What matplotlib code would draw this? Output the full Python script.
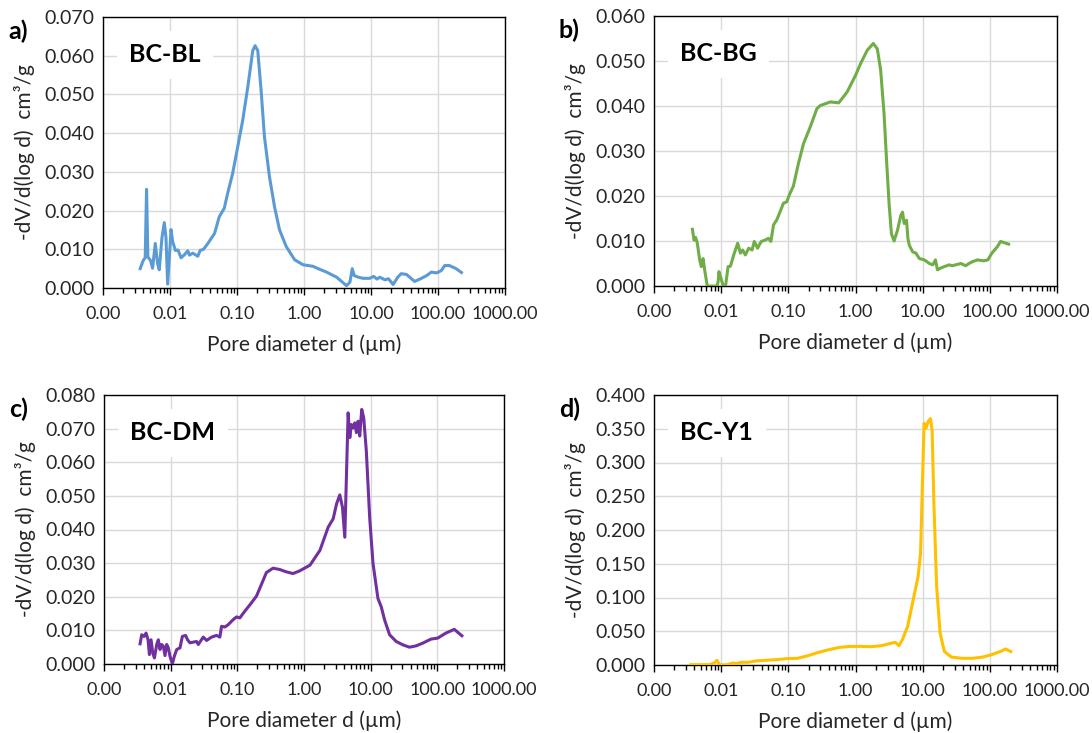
import numpy as np
import matplotlib
matplotlib.use("Agg")
import matplotlib.pyplot as plt
from matplotlib.ticker import FixedLocator, FuncFormatter, LogLocator, NullFormatter

plt.rcParams['font.family'] = ['Lato', 'DejaVu Sans']

# log10 of pore diameter (um) and -dV/d(log d) (cm3/g)
logd_bl = [-2.445, -2.40, -2.37, -2.35, -2.33, -2.29, -2.26, -2.22, -2.185, -2.16,
           -2.12, -2.085, -2.06, -2.035, -1.995, -1.985, -1.96, -1.92, -1.88, -1.835,
           -1.79, -1.735, -1.71, -1.66, -1.585, -1.55, -1.50, -1.435, -1.335, -1.265,
           -1.19, -1.14, -1.065, -0.99, -0.915, -0.84, -0.765, -0.73, -0.69, -0.64,
           -0.59, -0.515, -0.44, -0.365, -0.265, -0.14, -0.015, 0.135, 0.21, 0.337,
           0.486, 0.635, 0.685, 0.72, 0.75, 0.81, 0.88, 0.98, 1.04, 1.09,
           1.13, 1.21, 1.26, 1.33, 1.40, 1.45, 1.53, 1.65, 1.73, 1.83,
           1.90, 1.98, 2.05, 2.10, 2.17, 2.27, 2.35]
dv_bl = [0.0050, 0.0071, 0.0078, 0.0255, 0.0080, 0.0071, 0.0051, 0.0115, 0.0063, 0.0047,
         0.0130, 0.0169, 0.0130, 0.0010, 0.0120, 0.0151, 0.0120, 0.0097, 0.0098, 0.0078,
         0.0085, 0.0096, 0.0085, 0.0090, 0.0082, 0.0097, 0.0100, 0.0115, 0.0141, 0.0184,
         0.0206, 0.0244, 0.0296, 0.0364, 0.0433, 0.0518, 0.0613, 0.0626, 0.0613, 0.0510,
         0.0390, 0.0287, 0.0210, 0.0150, 0.0107, 0.0073, 0.0060, 0.0056, 0.0050, 0.0041,
         0.0028, 0.0006, 0.0015, 0.0050, 0.0032, 0.0028, 0.0025, 0.0025, 0.0030, 0.0023,
         0.0028, 0.0021, 0.0024, 0.0009, 0.0028, 0.0037, 0.0035, 0.0017, 0.0023, 0.0032,
         0.0041, 0.0039, 0.0045, 0.0058, 0.0058, 0.0050, 0.0040]

logd_bg = [-2.428, -2.404, -2.38, -2.355, -2.32, -2.296, -2.27, -2.246, -2.207, -2.06,
           -2.045, -2.034, -2.01, -1.97, -1.935, -1.897, -1.862, -1.813, -1.754, -1.714,
           -1.68, -1.64, -1.59, -1.54, -1.507, -1.458, -1.404, -1.345, -1.296, -1.26,
           -1.22, -1.172, -1.123, -1.073, -1.025, -0.975, -0.925, -0.85, -0.775, -0.675,
           -0.575, -0.525, -0.375, -0.25, -0.125, 0.0, 0.075, 0.175, 0.265, 0.325,
           0.375, 0.425, 0.465, 0.50, 0.535, 0.575, 0.625, 0.675, 0.70, 0.725,
           0.76, 0.78, 0.80, 0.85, 0.90, 0.95, 1.025, 1.10, 1.15, 1.19,
           1.22, 1.27, 1.32, 1.395, 1.44, 1.49, 1.57, 1.64, 1.69, 1.74,
           1.815, 1.91, 1.97, 2.03, 2.11, 2.16, 2.22, 2.28]
dv_bg = [0.0126, 0.0102, 0.0108, 0.0095, 0.0058, 0.0043, 0.0061, 0.0036, 0.0, 0.0,
         0.0010, 0.0032, 0.0021, 0.0, 0.0, 0.0043, 0.0044, 0.0069, 0.0095, 0.0073,
         0.0080, 0.0069, 0.0084, 0.0080, 0.0099, 0.0084, 0.0099, 0.0102, 0.0106, 0.0099,
         0.0136, 0.0147, 0.0165, 0.0184, 0.0187, 0.0206, 0.0222, 0.0272, 0.0316, 0.0353,
         0.0394, 0.0401, 0.0409, 0.0407, 0.0431, 0.0468, 0.0494, 0.0524, 0.0539, 0.0527,
         0.0479, 0.0383, 0.0272, 0.0183, 0.0116, 0.0100, 0.0124, 0.0157, 0.0164, 0.0139,
         0.0146, 0.0106, 0.0091, 0.0076, 0.0073, 0.0061, 0.0058, 0.0050, 0.0047, 0.0058,
         0.0036, 0.0040, 0.0043, 0.0047, 0.0045, 0.0047, 0.0050, 0.0045, 0.0050, 0.0054,
         0.0058, 0.0056, 0.0058, 0.0073, 0.0087, 0.0099, 0.0096, 0.0093]

logd_dm = [-2.459, -2.434, -2.399, -2.369, -2.339, -2.319, -2.294, -2.269, -2.244, -2.209,
           -2.185, -2.160, -2.135, -2.110, -2.085, -2.060, -2.035, -2.010, -1.975, -1.945,
           -1.910, -1.860, -1.825, -1.776, -1.746, -1.711, -1.611, -1.586, -1.511, -1.461,
           -1.387, -1.312, -1.262, -1.237, -1.187, -1.137, -1.062, -1.012, -0.963, -0.888,
           -0.788, -0.713, -0.638, -0.564, -0.464, -0.364, -0.264, -0.165, -0.065, 0.090,
           0.239, 0.363, 0.438, 0.488, 0.537, 0.577, 0.612, 0.662, 0.687, 0.711,
           0.736, 0.761, 0.786, 0.811, 0.836, 0.866, 0.896, 0.935, 0.985, 1.035,
           1.109, 1.159, 1.209, 1.284, 1.383, 1.483, 1.582, 1.682, 1.781, 1.905,
           2.005, 2.129, 2.254, 2.368]
dv_dm = [0.0060, 0.0087, 0.0082, 0.0092, 0.0072, 0.0028, 0.0072, 0.0033, 0.0018, 0.0058,
         0.0072, 0.0043, 0.0058, 0.0053, 0.0025, 0.0058, 0.0048, 0.0023, 0.0000, 0.0023,
         0.0043, 0.0048, 0.0082, 0.0085, 0.0072, 0.0063, 0.0067, 0.0058, 0.0080, 0.0070,
         0.0080, 0.0085, 0.0080, 0.0112, 0.0110, 0.0117, 0.0132, 0.0140, 0.0137, 0.0157,
         0.0182, 0.0202, 0.0237, 0.0272, 0.0285, 0.0281, 0.0274, 0.0269, 0.0277, 0.0294,
         0.0338, 0.0407, 0.0432, 0.0476, 0.0503, 0.0466, 0.0377, 0.0747, 0.0673, 0.0712,
         0.0702, 0.0717, 0.0688, 0.0722, 0.0678, 0.0757, 0.0732, 0.0633, 0.0436, 0.0299,
         0.0195, 0.0170, 0.0131, 0.0087, 0.0067, 0.0057, 0.0050, 0.0054, 0.0062, 0.0074,
         0.0077, 0.0092, 0.0103, 0.0084]

logd_y1 = [-2.453, -2.323, -2.167, -2.089, -2.0625, -2.036, -2.010, -1.906, -1.828, -1.776,
           -1.698, -1.594, -1.490, -1.333, -1.177, -1.021, -0.865, -0.708, -0.552, -0.396,
           -0.240, -0.083, 0.073, 0.229, 0.385, 0.542, 0.594, 0.646, 0.698, 0.776,
           0.828, 0.880, 0.932, 0.969, 0.995, 1.021, 1.052, 1.078, 1.115, 1.141,
           1.167, 1.208, 1.260, 1.323, 1.427, 1.583, 1.740, 1.896, 2.026, 2.156,
           2.234, 2.3125]
dv_y1 = [0.0005, 0.0005, 0.0005, 0.0040, 0.0070, 0.0020, 0.0000, 0.0005, 0.0030, 0.0020,
         0.0040, 0.0040, 0.0060, 0.0070, 0.0080, 0.0094, 0.0099, 0.0138, 0.0187, 0.0227,
         0.0261, 0.0276, 0.0276, 0.0271, 0.0286, 0.0325, 0.0335, 0.0286, 0.0375, 0.0572,
         0.0819, 0.1065, 0.1310, 0.1660, 0.2640, 0.3580, 0.3510, 0.3600, 0.3650, 0.3480,
         0.2400, 0.1160, 0.0470, 0.0200, 0.0118, 0.0099, 0.0099, 0.0118, 0.0153, 0.0200,
         0.0237, 0.0200]

panels = [
    ("a)", "BC-BL", logd_bl, dv_bl, "#5B9BD5", 0.070, 0.010, (103, 17, 505, 288)),
    ("b)", "BC-BG", logd_bg, dv_bg, "#70AD47", 0.060, 0.010, (654, 16, 1057, 286)),
    ("c)", "BC-DM", logd_dm, dv_dm, "#7030A0", 0.080, 0.010, (104, 395, 504, 664)),
    ("d)", "BC-Y1", logd_y1, dv_y1, "#FFC000", 0.400, 0.050, (654, 395, 1057, 665)),
]

W, H = 1092, 733
fig = plt.figure(figsize=(W / 100, H / 100), dpi=100)

for tag, name, logd, dv, col, ymax, ystep, (l, t, r, b) in panels:
    ax = fig.add_axes([l / W, 1 - b / H, (r - l) / W, (b - t) / H])
    d = 10 ** np.array(logd)
    ax.plot(d, dv, color=col, lw=2.2, zorder=3, solid_joinstyle='round')
    ax.set_xscale('log')
    ax.set_xlim(0.001, 1000)
    ax.set_ylim(0, ymax)
    ax.xaxis.set_major_locator(FixedLocator([10.0 ** k for k in range(-3, 4)]))
    ax.xaxis.set_minor_locator(LogLocator(base=10, subs=np.arange(2, 10), numticks=20))
    ax.xaxis.set_minor_formatter(NullFormatter())
    ax.xaxis.set_major_formatter(FuncFormatter(lambda v, p: f"{v:.2f}"))
    ax.set_yticks(np.arange(0, ymax + ystep / 2, ystep))
    ax.yaxis.set_major_formatter(FuncFormatter(lambda v, p: f"{v:.3f}"))
    ax.grid(True, which='major', color='#D9D9D9', lw=1.0, zorder=0)
    ax.set_axisbelow(True)
    ax.tick_params(axis='x', which='major', direction='out', length=5, width=1,
                   labelsize=13, pad=8, colors='black', labelcolor='#262626')
    ax.tick_params(axis='x', which='minor', direction='out', length=3.5, width=1)
    ax.tick_params(axis='y', length=0, labelsize=14, pad=6, labelcolor='#262626')
    for s in ax.spines.values():
        s.set_color('black')
        s.set_linewidth(1.0)
    ax.set_xlabel("Pore diameter d (µm)", fontsize=15, labelpad=9, color='#262626')
    ax.set_ylabel("-dV/d(log d)  cm³/g", fontsize=15, labelpad=7, color='#262626')
    ax.text(0.065, 0.86, name, transform=ax.transAxes, fontsize=18, fontweight='bold',
            va='center', ha='left', zorder=4, color='black',
            bbox=dict(boxstyle='square,pad=0.5', fc='white', ec='none'))
    fig.text((l - 95) / W, 1 - (t + 14) / H, tag, fontsize=18, fontweight='bold',
             va='center', ha='left')

fig.savefig("out.png", dpi=100)
